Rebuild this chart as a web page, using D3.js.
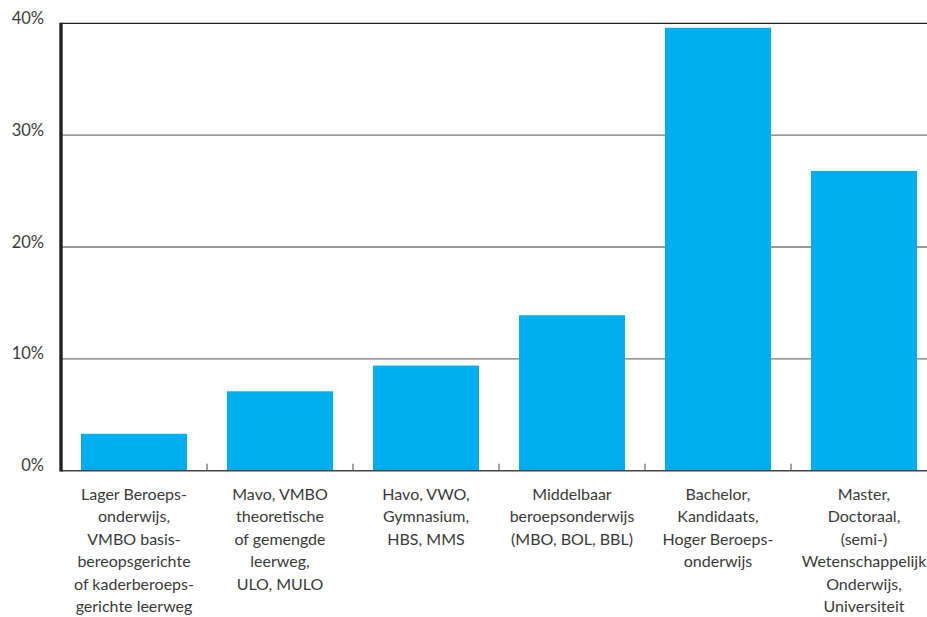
<!DOCTYPE html>
<html>
<head>
<meta charset="utf-8">
<script src="https://cdn.jsdelivr.net/npm/d3@7"></script>
<style>
  html, body { margin: 0; padding: 0; background: #fff; }
  svg { display: block; }
  text { font-family: Lato, "Noto Sans", sans-serif; fill: #3a3a3a; }
</style>
</head>
<body>
<svg id="chart" width="927" height="617"></svg>
<script>
const categories = [
  "Lager Beroepsonderwijs",
  "Mavo",
  "Havo",
  "MBO",
  "Bachelor",
  "Master"
];
const categoryLabels = [
  ["Lager Beroeps-", "onderwijs,", "VMBO basis-", "bereopsgerichte", "of kaderberoeps-", "gerichte leerweg"],
  ["Mavo, VMBO", "theoretische", "of gemengde", "leerweg,", "ULO, MULO"],
  ["Havo, VWO,", "Gymnasium,", "HBS, MMS"],
  ["Middelbaar", "beroepsonderwijs", "(MBO, BOL, BBL)"],
  ["Bachelor,", "Kandidaats,", "Hoger Beroeps-", "onderwijs"],
  ["Master,", "Doctoraal,", "(semi-)", "Wetenschappelijk", "Onderwijs,", "Universiteit"]
];
const values = [3.3, 7.1, 9.4, 13.9, 39.6, 26.8];
const yTicks = [0, 10, 20, 30, 40];

(function () {
const svg = d3.select("#chart");
const mLeft = 61, mRight = 937, mTop = 23.3, mBottom = 470.7;

const x = d3.scaleBand()
  .domain(categories)
  .range([mLeft, mRight])
  .paddingInner(0.274)
  .paddingOuter(0.137);

const y = d3.scaleLinear().domain([0, 40]).range([mBottom, mTop]);

// gridlines
svg.append("g").selectAll("line")
  .data(yTicks.filter(d => d > 0))
  .join("line")
  .attr("x1", mLeft).attr("x2", 927)
  .attr("y1", d => y(d)).attr("y2", d => y(d))
  .attr("stroke", d => d === 40 ? "#222" : "#777")
  .attr("stroke-width", d => d === 40 ? 1.2 : 1.4);

// y labels
svg.append("g").selectAll("text")
  .data(yTicks)
  .join("text")
  .attr("x", 44)
  .attr("y", d => y(d) + 0.5)
  .attr("text-anchor", "end")
  .attr("font-size", 16.5)
  .text(d => d + "%");

// bars
svg.append("g").selectAll("rect")
  .data(values)
  .join("rect")
  .attr("x", (d, i) => x(categories[i]))
  .attr("width", x.bandwidth())
  .attr("y", d => y(d))
  .attr("height", d => y(0) - y(d))
  .attr("fill", "#00AEEF");

// bottom axis line
svg.append("line")
  .attr("x1", mLeft).attr("x2", 927)
  .attr("y1", y(0)).attr("y2", y(0))
  .attr("stroke", "#444").attr("stroke-width", 1.6);

// ticks between bands
const step = x.step();
svg.append("g").selectAll("line")
  .data(categories.slice(1))
  .join("line")
  .attr("x1", d => x(d) - x.paddingInner() * step / 2)
  .attr("x2", d => x(d) - x.paddingInner() * step / 2)
  .attr("y1", y(0) - 7).attr("y2", y(0))
  .attr("stroke", "#444").attr("stroke-width", 1);

// left axis line
svg.append("line")
  .attr("x1", mLeft).attr("x2", mLeft)
  .attr("y1", mTop - 0.5).attr("y2", y(0) + 0.8)
  .attr("stroke", "#222").attr("stroke-width", 3.4);

// category labels
const lbl = svg.append("g").selectAll("text")
  .data(categories)
  .join("text")
  .attr("text-anchor", "middle")
  .attr("font-size", 16)
  .attr("x", d => x(d) + x.bandwidth() / 2)
  .attr("y", 500);
lbl.each(function(d, i) {
  const t = d3.select(this);
  categoryLabels[i].forEach((line, j) => {
    t.append("tspan")
      .attr("x", x(d) + x.bandwidth() / 2)
      .attr("y", 500 + j * 22.4)
      .text(line);
  });
});
})();
</script>
</body>
</html>
